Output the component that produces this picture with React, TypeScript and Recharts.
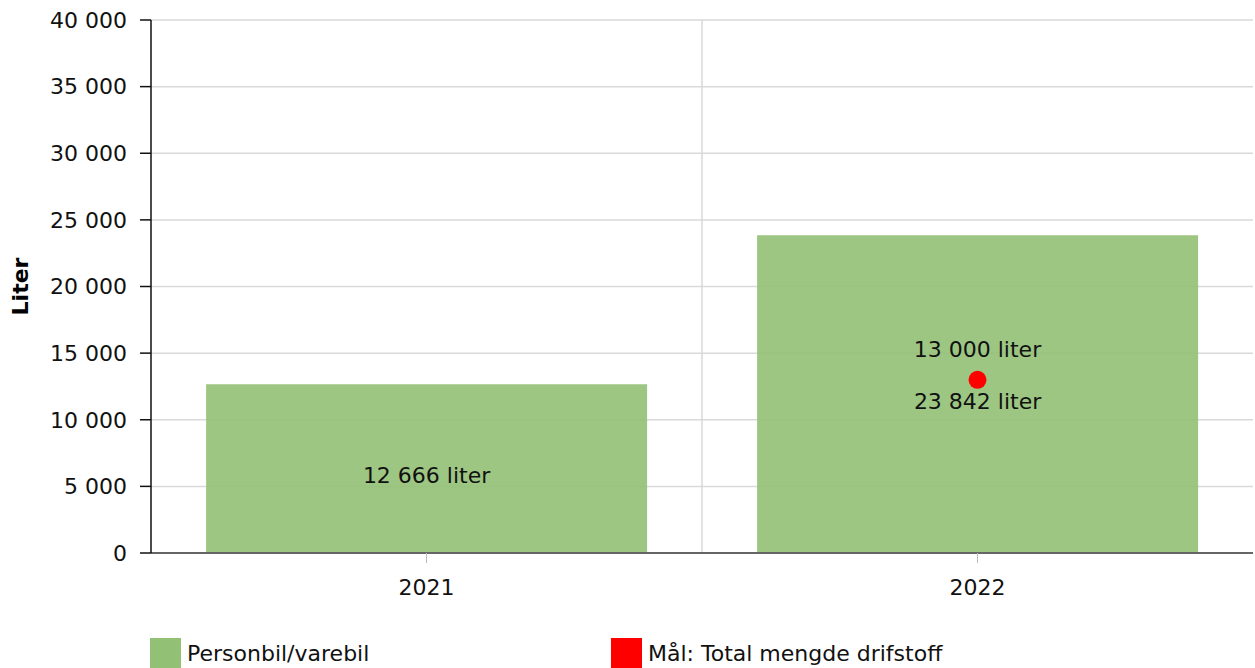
import {
  ComposedChart, Bar, Line, XAxis, YAxis, CartesianGrid, Legend, LabelList
} from 'recharts';

const years = ['2021', '2022'];
const personbil = [12666, 23842];
const target = [null, 13000];
const yTicks = [0, 5000, 10000, 15000, 20000, 25000, 30000, 35000, 40000];
const legendOrder = ['Personbil/varebil', 'Mål: Total mengde drifstoff'];

const data = years.map((year, i) => ({
  year,
  personbil: personbil[i],
  target: target[i],
}));

const FONT = '"DejaVu Sans", Verdana, sans-serif';
const FS = 22;
const fmt = (v: number) => String(v).replace(/\B(?=(\d{3})+(?!\d))/g, ' ');

const BarLabel = (props: any) => {
  const { x, y, width, height, value } = props;
  if (value == null) return null;
  return (
    <text x={x + width / 2} y={y + height / 2 + 7} textAnchor="middle" dy="0.35em"
      fontSize={FS} fontFamily={FONT} fill="#111">
      {fmt(value)} liter
    </text>
  );
};

const TargetLabel = (props: any) => {
  const { x, y, value } = props;
  if (value == null) return null;
  return (
    <text x={x} y={y - 30} textAnchor="middle" dy="0.35em"
      fontSize={FS} fontFamily={FONT} fill="#111">
      {fmt(value)} liter
    </text>
  );
};

const LegendContent = (props: any) => {
  const items = [...(props.payload || [])].sort(
    (a: any, b: any) => legendOrder.indexOf(a.value) - legendOrder.indexOf(b.value)
  );
  return (
    <div style={{ display: 'flex', paddingLeft: 150, fontFamily: FONT, fontSize: FS, color: '#111' }}>
      {items.map((it: any) => (
        <div key={it.value} style={{ display: 'flex', alignItems: 'center', width: 461 }}>
          <span style={{ width: 31, height: 31, background: it.color, marginRight: 6, display: 'inline-block' }} />
          <span>{it.value}</span>
        </div>
      ))}
    </div>
  );
};

const tickStyle = { fontSize: FS, fontFamily: FONT, fill: '#111' };

export default function App() {
  return (
    <div style={{ position: 'absolute', left: 0, top: 0 }}>
      <ComposedChart width={1255} height={668} data={data}
        margin={{ top: 20, right: 2, left: 0, bottom: 0 }} barCategoryGap="10%">
        <CartesianGrid stroke="#d9d9d9" strokeWidth={1.5}
          verticalCoordinatesGenerator={({ offset }: any) => [offset.left + offset.width / 2]} />
        <XAxis dataKey="year" height={85} tickSize={10} tickMargin={16}
          fontSize={FS} fontFamily={FONT}
          axisLine={{ stroke: '#666', strokeWidth: 2 }}
          tickLine={{ stroke: '#bbb' }}
          tick={tickStyle} />
        <YAxis width={151} domain={[0, 40000]} ticks={yTicks} tickFormatter={fmt}
          tickSize={11} tickMargin={13} interval={0}
          fontSize={FS} fontFamily={FONT}
          axisLine={{ stroke: '#111', strokeWidth: 1.5 }}
          tickLine={{ stroke: '#111', strokeWidth: 1.5 }}
          tick={tickStyle}
          label={{ value: 'Liter', angle: -90, position: 'insideLeft', offset: 20,
            style: { fontSize: FS, fontWeight: 'bold', fontFamily: FONT, fill: '#000', textAnchor: 'middle' } }} />
        <Legend height={30} verticalAlign="bottom" content={<LegendContent />} />
        <Bar dataKey="personbil" name="Personbil/varebil" fill="#92C075" fillOpacity={0.9}
          isAnimationActive={false}>
          <LabelList dataKey="personbil" content={<BarLabel />} />
        </Bar>
        <Line dataKey="target" name="Mål: Total mengde drifstoff" stroke="#ff0000" strokeWidth={0}
          dot={{ r: 9, fill: '#ff0000', stroke: 'none' }} activeDot={false}
          isAnimationActive={false}>
          <LabelList dataKey="target" content={<TargetLabel />} />
        </Line>
      </ComposedChart>
    </div>
  );
}
